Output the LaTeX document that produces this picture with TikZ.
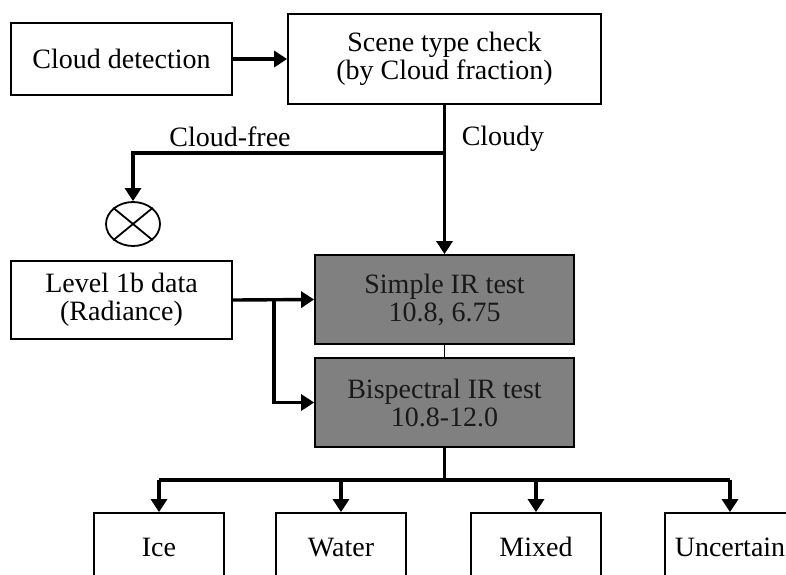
\documentclass[tikz,border=0pt]{standalone}
\usepackage{fontspec}
\setmainfont{Liberation Serif}
\usetikzlibrary{arrows.meta,shapes.geometric}
\definecolor{boxgray}{HTML}{808080}
\begin{document}
\begin{tikzpicture}[x=1pt,y=-1pt,
  txt/.style={font=\fontsize{28}{28}\selectfont},
  box/.style={txt,draw=black,line width=1.8pt,align=center,inner sep=0pt},
  graybox/.style={box,fill=boxgray,text=black!90,minimum width=259pt,minimum height=89pt},
  outbox/.style={box,minimum width=130pt,minimum height=68pt,text height=18.5pt,text depth=0pt},
  conn/.style={line width=3.4pt},
  arr/.style={conn,-{Triangle[length=13pt,width=16pt]}},
  thin/.style={line width=1.8pt},
  lbl/.style={txt,inner sep=0pt}]
\useasboundingbox (0,0) rectangle (786,574);
\clip (0,0) rectangle (786,574);
\fill[white] (0,0) rectangle (786,574);

\node[box,minimum width=221pt,minimum height=72pt] (cd) at (121.5,59) {Cloud detection};
\node[box,minimum width=313pt,minimum height=90pt] (st) at (444.5,59) {Scene type check\\(by Cloud fraction)};
\node[box,minimum width=221pt,minimum height=78pt] (l1) at (121.5,300) {Level 1b data\\(Radiance)};
\node[graybox] (g1) at (444.5,299.5) {Simple IR test\\10.8, 6.75};
\node[graybox] (g2) at (444.5,402.5) {Bispectral IR test\\10.8-12.0};
\node[draw=black,line width=1.8pt,ellipse,minimum width=54pt,minimum height=44pt,inner sep=0pt] (sink) at (133,224) {};
\draw[thin] (sink.north west) -- (sink.south east) (sink.north east) -- (sink.south west);

\node[outbox] (ice) at (159,547) {Ice};
\node[outbox] (water) at (341,547) {Water};
\node[outbox] (mixed) at (536,547) {Mixed};
\node[outbox] (unc) at (730,547) {Uncertain};

\node[lbl] (cf) at (230,137) {Cloud-free};
\node[lbl] (cl) at (503,139) {Cloudy};

\coordinate (split) at (444.5,153);
\coordinate (branch) at (274,300);
\coordinate (fan) at (444.5,480);

\draw[arr] (cd.east) -- (st.west);
\draw[arr] (st.south) -- (g1.north);
\draw[arr] (split) -| (sink.north);
\draw[arr] (l1.east) -- (g1.west);
\draw[arr] (branch) |- (g2.west);
\draw[thin] (g1.south) -- (g2.north);
\draw[conn] (g2.south) -- (fan);
\draw[conn] (ice.north |- fan) -- (unc.north |- fan);
\draw[arr] (ice.north |- fan) -- (ice.north);
\draw[arr] (water.north |- fan) -- (water.north);
\draw[arr] (mixed.north |- fan) -- (mixed.north);
\draw[arr] (unc.north |- fan) -- (unc.north);
\end{tikzpicture}
\end{document}
